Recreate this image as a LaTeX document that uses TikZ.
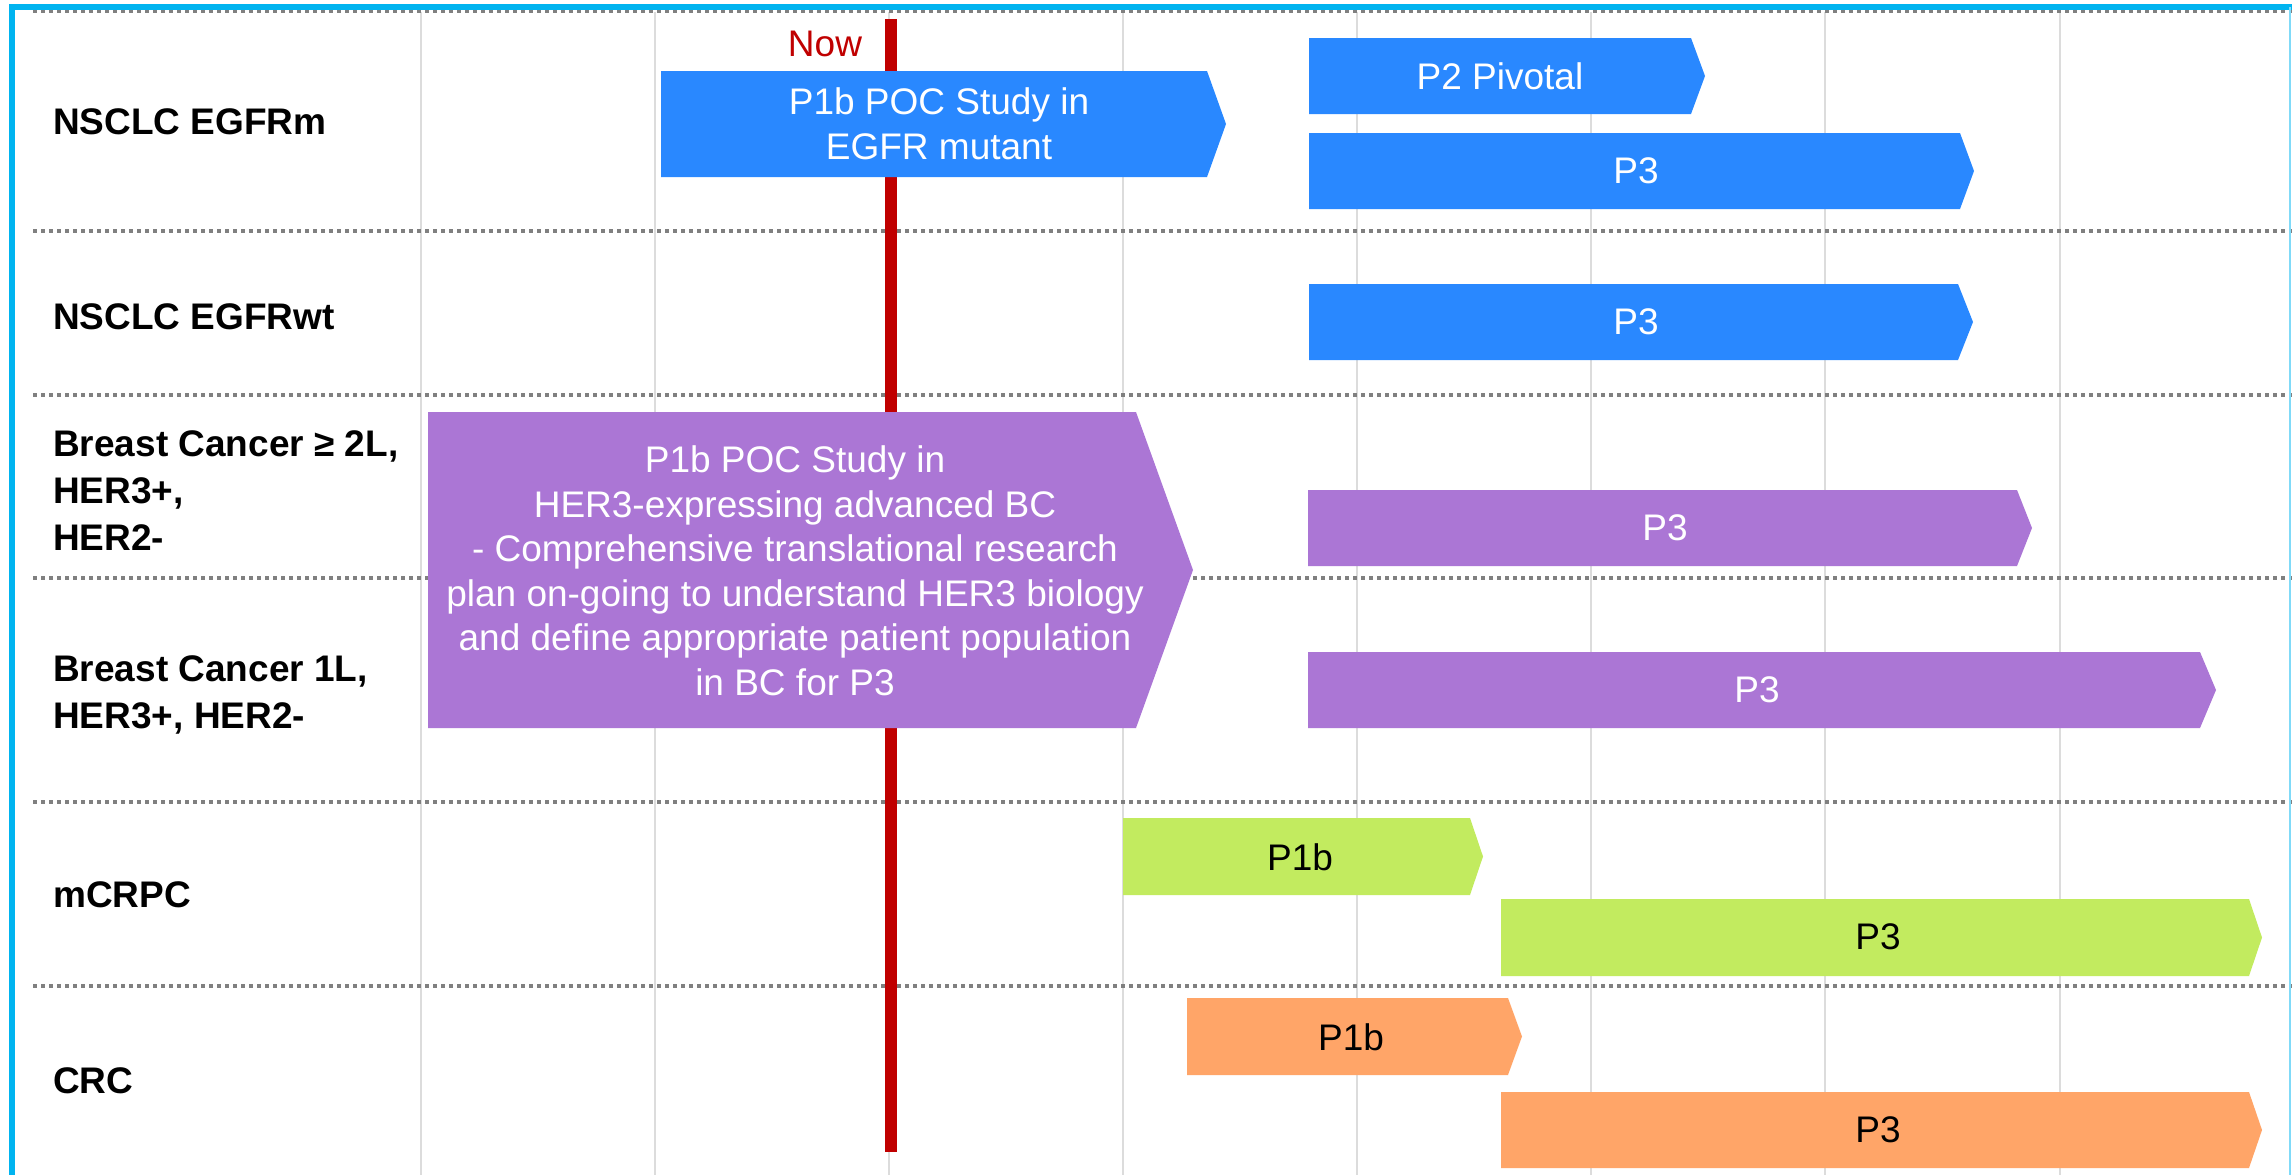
\documentclass[tikz,border=0pt]{standalone}
\usepackage{fontspec}
\setmainfont{Liberation Sans}
\definecolor{frameblue}{HTML}{00B4F0}
\definecolor{gridgray}{HTML}{DCDCDC}
\definecolor{sepgray}{HTML}{808080}
\definecolor{nowred}{HTML}{C00000}
\definecolor{barblue}{HTML}{2988FF}
\definecolor{barpurple}{HTML}{AB76D5}
\definecolor{bargreen}{HTML}{C2EB5F}
\definecolor{barorange}{HTML}{FFA568}
% phase bar: #1 colour, #2 left, #3 body end, #4 tip, #5 top, #6 bottom
\newcommand\phasebar[6]{%
  \fill[#1] (#2,#5) -- (#3,#5) -- (#4,{(#5+#6)/2}) -- (#3,#6) -- (#2,#6) -- cycle;}
\begin{document}
\begin{tikzpicture}[x=1pt,y=-1pt,
  gridline/.style={draw=gridgray, line width=2},
  sepline/.style={draw=sepgray, line width=4, dash pattern=on 4 off 4},
  nowline/.style={draw=nowred, line width=12},
  rowlabel/.style={anchor=north west, align=left, inner sep=0,
    font=\bfseries\fontsize{37}{47}\selectfont},
  whitetext/.style={text=white, align=center, inner sep=0,
    font=\fontsize{37}{44.5}\selectfont},
  blacktext/.style={text=black, align=center, inner sep=0,
    font=\fontsize{37}{44.5}\selectfont}]
\useasboundingbox (0,0) rectangle (2292,1175);
\fill[white] (0,0) rectangle (2292,1175);

% time grid
\foreach \gx in {421,655,889,1123,1357,1591,1825,2060}
  \draw[gridline] (\gx,12) -- (\gx,1175);

% row separators
\foreach \sy in {11,231,395,578,802,986}
  \draw[sepline] (33,\sy) -- (2292,\sy);

% frame
\draw[frameblue, line width=5.5] (12,1180) -- (12,7) -- (2292,7);
\draw[frameblue!50, line width=2] (2290,7) -- (2290,1180);

% today marker
\coordinate (nowtop) at (891,19);
\coordinate (nowbot) at (891,1152);
\draw[nowline] (nowtop) -- (nowbot);
\node[text=nowred, inner sep=0, font=\fontsize{37}{44}\selectfont] (now) at (825,44) {Now};

% row labels
\node[rowlabel] (l1) at (53,108) {NSCLC EGFRm};
\node[rowlabel] (l2) at (53,303) {NSCLC EGFRwt};
\node[rowlabel] (l3) at (53,430) {Breast Cancer ≥ 2L,\\HER3+,\\HER2-};
\node[rowlabel] (l4) at (53,655) {Breast Cancer 1L,\\HER3+, HER2-};
\node[rowlabel] (l5) at (53,881) {mCRPC};
\node[rowlabel] (l6) at (53,1067) {CRC};

% NSCLC EGFRm
\phasebar{barblue}{661}{1207}{1226}{71}{177}
\node[whitetext] (poc1) at (939,124) {P1b POC Study in\\EGFR mutant};
\phasebar{barblue}{1309}{1691}{1705}{38}{114}
\node[whitetext] (piv) at (1500,76) {P2 Pivotal};
\phasebar{barblue}{1309}{1960}{1974}{133}{209}
\node[whitetext] (p3a) at (1636,171) {P3};

% NSCLC EGFRwt
\phasebar{barblue}{1309}{1958}{1973}{284}{360}
\node[whitetext] (p3b) at (1636,322) {P3};

% Breast cancer
\phasebar{barpurple}{428}{1136}{1193}{412}{728}
\node[whitetext] (poc2) at (795,571) {P1b POC Study in\\HER3-expressing advanced BC\\- Comprehensive translational research\\plan on-going to understand HER3 biology\\and define appropriate patient population\\in BC for P3};
\phasebar{barpurple}{1308}{2017}{2032}{490}{566}
\node[whitetext] (p3c) at (1665,528) {P3};
\phasebar{barpurple}{1308}{2200}{2216}{652}{728}
\node[whitetext] (p3d) at (1757,690) {P3};

% mCRPC
\phasebar{bargreen}{1123}{1470}{1483}{818}{895}
\node[blacktext] (p1g) at (1300,857) {P1b};
\phasebar{bargreen}{1501}{2249}{2262}{899}{976}
\node[blacktext] (p3g) at (1878,937) {P3};

% CRC
\phasebar{barorange}{1187}{1508}{1522}{998}{1075}
\node[blacktext] (p1o) at (1351,1037) {P1b};
\phasebar{barorange}{1501}{2249}{2262}{1092}{1168}
\node[blacktext] (p3o) at (1878,1130) {P3};
\end{tikzpicture}
\end{document}
